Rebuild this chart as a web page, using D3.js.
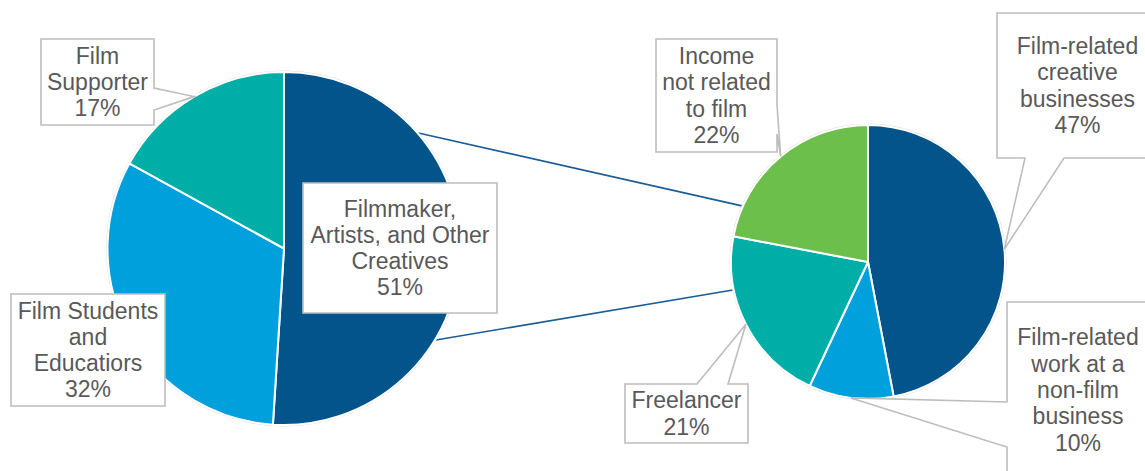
<!DOCTYPE html>
<html>
<head>
<meta charset="utf-8">
<script src="https://cdn.jsdelivr.net/npm/d3@7"></script>
<style>
  html, body { margin: 0; padding: 0; background: #fff; }
  svg { display: block; }
  .lbl { font-family: "Liberation Sans", Arial, sans-serif; font-size: 23px; fill: #595959; }
</style>
</head>
<body>
<svg id="chart" width="1145" height="471"></svg>
<script>
// Primary pie: audience groups
const mainCategories = ["Filmmaker, Artists, and Other Creatives", "Film Students and Educatiors", "Film Supporter"];
const mainValues = [51, 32, 17];
const mainLabelLines = [
  ["Filmmaker,", "Artists, and Other", "Creatives", "51%"],
  ["Film Students", "and", "Educatiors", "32%"],
  ["Film", "Supporter", "17%"]
];

// Secondary pie: income sources of the creatives group
const subCategories = ["Film-related creative businesses", "Film-related work at a non-film business", "Freelancer", "Income not related to film"];
const subValues = [47, 10, 21, 22];
const subLabelLines = [
  ["Film-related", "creative", "businesses", "47%"],
  ["Film-related", "work at a", "non-film", "business", "10%"],
  ["Freelancer", "21%"],
  ["Income", "not related", "to film", "22%"]
];

const mainColors = ["#02548a", "#00a0dd", "#00aea8"];
const subColors = ["#02548a", "#00a0dd", "#00aea8", "#6bbf4a"];

const svg = d3.select("#chart");

const P1 = { cx: 284, cy: 248.5, r: 176.5 };
const P2 = { cx: 868, cy: 262, r: 137 };

const pie = d3.pie().sort(null).value(d => d.value);
const mainArcs = pie(mainCategories.map((c, i) => ({ name: c, value: mainValues[i] })));
const subArcs = pie(subCategories.map((c, i) => ({ name: c, value: subValues[i] })));

const deg = Math.PI / 180;
const onCircle = (p, angDeg, rr) => [p.cx + rr * Math.sin(angDeg * deg), p.cy - rr * Math.cos(angDeg * deg)];

// Connector lines between the two pies
const connectors = [
  { from: onCircle(P1, 49, P1.r), to: onCircle(P2, 294, P2.r + 1) },
  { from: onCircle(P1, 121.7, P1.r - 1.5), to: onCircle(P2, 258.3, P2.r + 1) }
];
svg.append("g").selectAll("line").data(connectors).join("line")
  .attr("x1", d => d.from[0]).attr("y1", d => d.from[1])
  .attr("x2", d => d.to[0]).attr("y2", d => d.to[1])
  .attr("stroke", "#1c5c97").attr("stroke-width", 1.6);

function drawPie(p, arcs, colors) {
  const g = svg.append("g").attr("transform", `translate(${p.cx},${p.cy})`);
  g.append("circle").attr("r", p.r + 1).attr("fill", "none")
    .attr("stroke", "#dedede").attr("stroke-width", 1);
  const arc = d3.arc().innerRadius(0).outerRadius(p.r);
  g.selectAll("path").data(arcs).join("path")
    .attr("d", arc)
    .attr("fill", (d, i) => colors[i])
    .attr("stroke", "#fff").attr("stroke-width", 2).attr("stroke-linejoin", "round");
}
drawPie(P1, mainArcs, mainColors);
drawPie(P2, subArcs, subColors);

// Point on the outer edge of a slice, at its middle angle
function edgePoint(p, d) {
  const c = d3.arc().innerRadius(p.r).outerRadius(p.r).centroid(d);
  return [p.cx + c[0], p.cy + c[1]];
}

// Callout shape: box with an optional pointer wedge on one side
function calloutPath(b, w, tip) {
  const path = d3.path();
  path.moveTo(b.x0, b.y0);
  if (w && w.side === "top") { path.lineTo(w.a, b.y0); path.lineTo(tip[0], tip[1]); path.lineTo(w.b, b.y0); }
  path.lineTo(b.x1, b.y0);
  if (w && w.side === "right") { path.lineTo(b.x1, w.a); path.lineTo(tip[0], tip[1]); path.lineTo(b.x1, w.b); }
  path.lineTo(b.x1, b.y1);
  if (w && w.side === "bottom") { path.lineTo(w.b, b.y1); path.lineTo(tip[0], tip[1]); path.lineTo(w.a, b.y1); }
  path.lineTo(b.x0, b.y1);
  if (w && w.side === "left") { path.lineTo(b.x0, w.b); path.lineTo(tip[0], tip[1]); path.lineTo(b.x0, w.a); }
  path.closePath();
  return path.toString();
}

const lineGap = 26.3;
function drawCallout(p, d, lines, box, wedge) {
  const tip = edgePoint(p, d);
  const g = svg.append("g");
  g.append("path").attr("d", calloutPath(box, wedge, tip))
    .attr("fill", "#fff").attr("stroke", "#bdbdbd").attr("stroke-width", 1.6)
    .attr("stroke-linejoin", "miter");
  const cx = (box.x0 + box.x1) / 2;
  const cy = (box.y0 + box.y1) / 2;
  const y0 = cy - (lines.length - 1) * lineGap / 2;
  g.selectAll("text").data(lines).join("text")
    .attr("class", "lbl")
    .attr("text-anchor", "middle")
    .attr("x", cx)
    .attr("y", (t, i) => y0 + i * lineGap + 8)
    .text(t => t);
}

// Primary pie labels
drawCallout(P1, mainArcs[0], mainLabelLines[0], { x0: 303, y0: 183, x1: 497, y1: 313 }, null);
drawCallout(P1, mainArcs[1], mainLabelLines[1], { x0: 11, y0: 294, x1: 165, y1: 406 }, null);
drawCallout(P1, mainArcs[2], mainLabelLines[2], { x0: 41, y0: 39, x1: 154, y1: 125 }, { side: "right", a: 88, b: 110 });

// Secondary pie labels
drawCallout(P2, subArcs[0], subLabelLines[0], { x0: 997, y0: 13, x1: 1158, y1: 158 }, { side: "bottom", a: 1025, b: 1064 });
drawCallout(P2, subArcs[1], subLabelLines[1], { x0: 1007, y0: 302, x1: 1149, y1: 478 }, { side: "left", a: 402, b: 447 });
drawCallout(P2, subArcs[2], subLabelLines[2], { x0: 625, y0: 384, x1: 748, y1: 443 }, { side: "top", a: 697, b: 728 });
drawCallout(P2, subArcs[3], subLabelLines[3], { x0: 656, y0: 39, x1: 777, y1: 152 }, { side: "right", a: 105, b: 134 });
</script>
</body>
</html>
